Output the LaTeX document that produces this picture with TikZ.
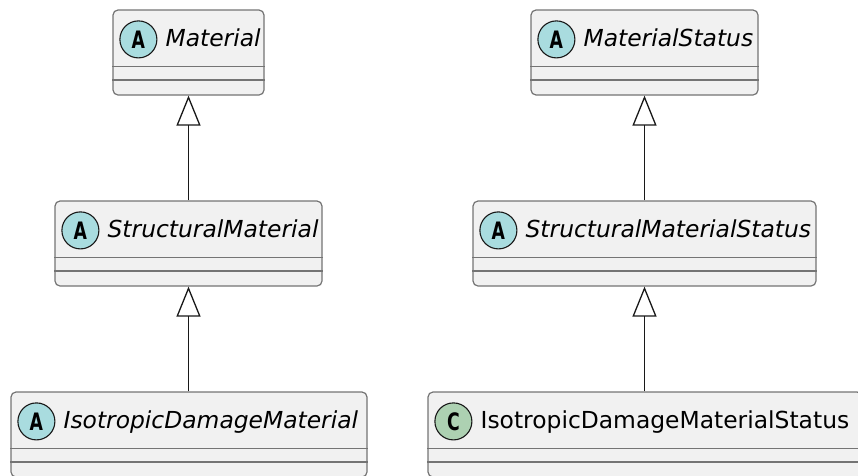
\documentclass[tikz,border=0pt]{standalone}
\usepackage{fontspec}
\setmainfont{DejaVu Sans}
\usetikzlibrary{arrows.meta}

\definecolor{boxfill}{HTML}{F1F1F1}
\definecolor{boxdraw}{HTML}{747474}
\definecolor{edge}{HTML}{181818}
\definecolor{abstractspot}{HTML}{A9DCDF}
\definecolor{classspot}{HTML}{ADD1B2}

\tikzset{
  classbox/.style={draw=boxdraw, fill=boxfill, line width=1.2pt,
    rounded corners=5pt, inner sep=0pt, minimum height=85pt},
  sepline/.style={draw=boxdraw, line width=1.2pt},
  spot/.style={circle, draw=edge, line width=1.1pt, inner sep=0pt,
    minimum size=37pt},
  spotletter/.style={inner sep=0pt, font=\fontsize{24}{24}\selectfont\bfseries,
    xscale=0.72},
  title/.style={anchor=base west, inner sep=0pt, text=black,
    font=\fontsize{23.4}{28}\selectfont},
  extends/.style={draw=edge, line width=1.5pt,
    -{Triangle[length=30pt, width=24pt, fill=white, line width=1.3pt]}}
}

% #1 name, #2 left, #3 top, #4 right, #5 spot letter, #6 spot colour, #7 title
\newcommand\umlclass[7]{%
  \node[classbox, minimum width={(#4-#2)*1pt}] (#1) at ({(#2+#4)/2}, {#3+42.5}) {};
  \draw[sepline] ([yshift=-57pt]#1.north west) -- ([yshift=-57pt]#1.north east);
  \draw[sepline] ([yshift=-70.5pt]#1.north west) -- ([yshift=-70.5pt]#1.north east);
  \node[spot, fill=#6] (#1-spot) at ([xshift=26pt, yshift=-30pt]#1.north west) {};
  \node[spotletter] at (#1-spot) {#5};
  \node[title] (#1-title) at ([xshift=53pt, yshift=-37.5pt]#1.north west) {#7};
}

\begin{document}
\begin{tikzpicture}[x=1pt, y=-1pt]
  \useasboundingbox (0,0) rectangle (858,475);
  \clip (0,0) rectangle (858,475);

  % material hierarchy
  \umlclass{mat}{113}{10}{264}{A}{abstractspot}{\itshape Material}
  \umlclass{smat}{55}{201}{322}{A}{abstractspot}{\itshape StructuralMaterial}
  \umlclass{idmat}{11}{392}{367}{A}{abstractspot}{\itshape IsotropicDamageMaterial}

  % material status hierarchy
  \umlclass{mstat}{531}{10}{758}{A}{abstractspot}{\itshape MaterialStatus}
  \umlclass{smstat}{473}{201}{816}{A}{abstractspot}{\itshape StructuralMaterialStatus}
  \umlclass{idmstat}{428}{392}{862}{C}{classspot}{IsotropicDamageMaterialStatus}

  % generalisations
  \draw[extends] (smat.north) -- (smat.north |- mat.south);
  \draw[extends] (idmat.north -| smat.south) -- (smat.south);
  \draw[extends] (smstat.north) -- (smstat.north |- mstat.south);
  \draw[extends] (idmstat.north -| smstat.south) -- (smstat.south);
\end{tikzpicture}
\end{document}
